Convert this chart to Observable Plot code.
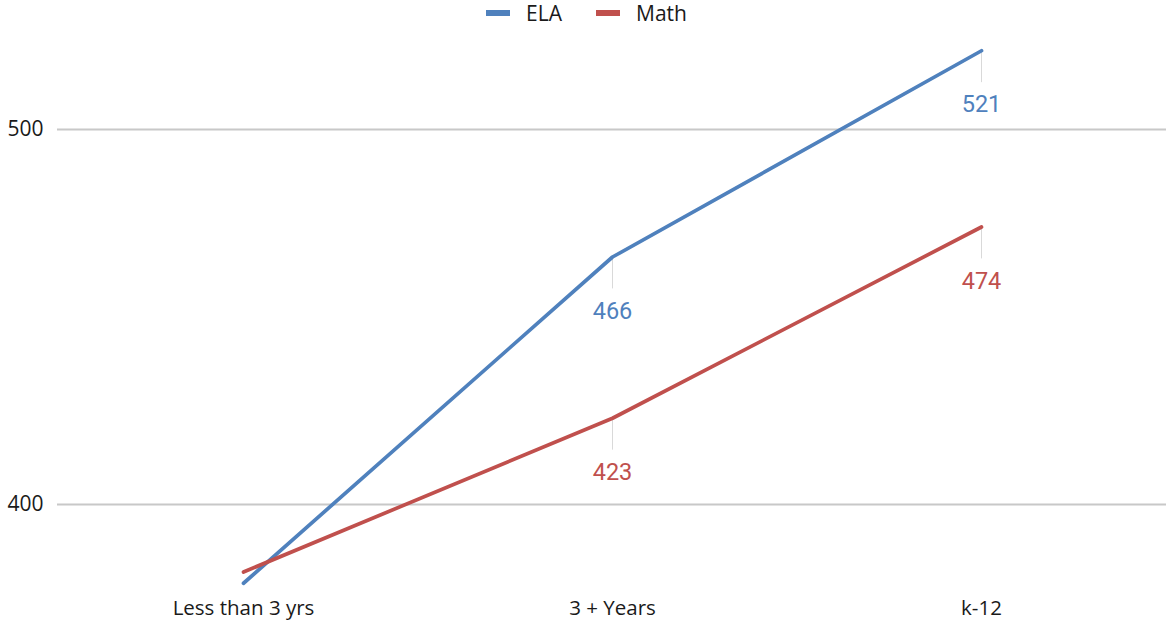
<!DOCTYPE html>
<html>
<head>
<meta charset="utf-8">
<script src="https://cdn.jsdelivr.net/npm/d3@7"></script>
<script src="https://cdn.jsdelivr.net/npm/@observablehq/plot@0.6"></script>
<style>
  html, body { margin: 0; padding: 0; background: #ffffff; }
  #legend { height: 26px; display: flex; justify-content: center; align-items: center; gap: 34px;
            font-family: "Open Sans", sans-serif; font-size: 21px; line-height: 1; color: #1a1a1a; padding-left: 6px; }
  .item { display: flex; align-items: center; gap: 16px; }
  .swatch { width: 24px; height: 6px; }
</style>
</head>
<body>
<div id="legend"></div>
<div id="chart"></div>
<script>
// ---- data ----
const categories = ["Less than 3 yrs", "3 + Years", "k-12"];
const seriesNames = ["ELA", "Math"];
const elaValues = [379, 466, 521];
const mathValues = [382, 423, 474];
const labeledCategories = ["3 + Years", "k-12"];
const yTicks = [400, 500];
const seriesColors = ["#4F81BD", "#C0504D"];

// ---- build rows ----
const seriesValues = [elaValues, mathValues];
const rows = [];
seriesNames.forEach((s, si) => {
  categories.forEach((c, ci) => rows.push({ series: s, category: c, value: seriesValues[si][ci] }));
});
const labeled = rows.filter(d => labeledCategories.includes(d.category));

// ---- legend ----
const legend = document.getElementById("legend");
seriesNames.forEach((s, i) => {
  const item = document.createElement("div");
  item.className = "item";
  const sw = document.createElement("span");
  sw.className = "swatch";
  sw.style.background = seriesColors[i];
  const t = document.createElement("span");
  t.textContent = s;
  item.appendChild(sw);
  item.appendChild(t);
  legend.appendChild(item);
});

// leader line shape (plain line, no head)
const leaderShape = {
  draw(context, l) { context.moveTo(0, 0); context.lineTo(0, -l); }
};

const chart = Plot.plot({
  width: 1167,
  height: 595,
  marginLeft: 57,
  marginRight: 1,
  marginTop: 28,
  marginBottom: 42,
  style: { fontFamily: "Open Sans, sans-serif", fontSize: "21px", color: "#1a1a1a", background: "#ffffff" },
  x: { type: "point", domain: categories, padding: 0.5, label: null },
  y: { domain: [380, 520], label: null },
  color: { domain: seriesNames, range: seriesColors },
  marks: [
    Plot.gridY(yTicks, { stroke: "#c8c8c8", strokeOpacity: 1, strokeWidth: 2 }),
    Plot.axisY(yTicks, { tickSize: 0, tickPadding: 14, fontSize: 21, tickFormat: d => String(d), label: null }),
    Plot.axisX({ tickSize: 0, tickPadding: 21, fontSize: 20.5, label: null }),
    Plot.vector(labeled, { x: "category", y: "value", length: 31, rotate: 180, anchor: "start",
                            shape: leaderShape, stroke: "#d9d9d9", strokeWidth: 1 }),
    Plot.line(rows, { x: "category", y: "value", z: "series", stroke: "series", strokeWidth: 3.7 }),
    Plot.text(labeled, { x: "category", y: "value", text: d => String(d.value), fill: "series",
                         dy: 54, fontFamily: "Roboto", fontSize: 23.5 })
  ]
});
document.getElementById("chart").appendChild(chart);
</script>
</body>
</html>
